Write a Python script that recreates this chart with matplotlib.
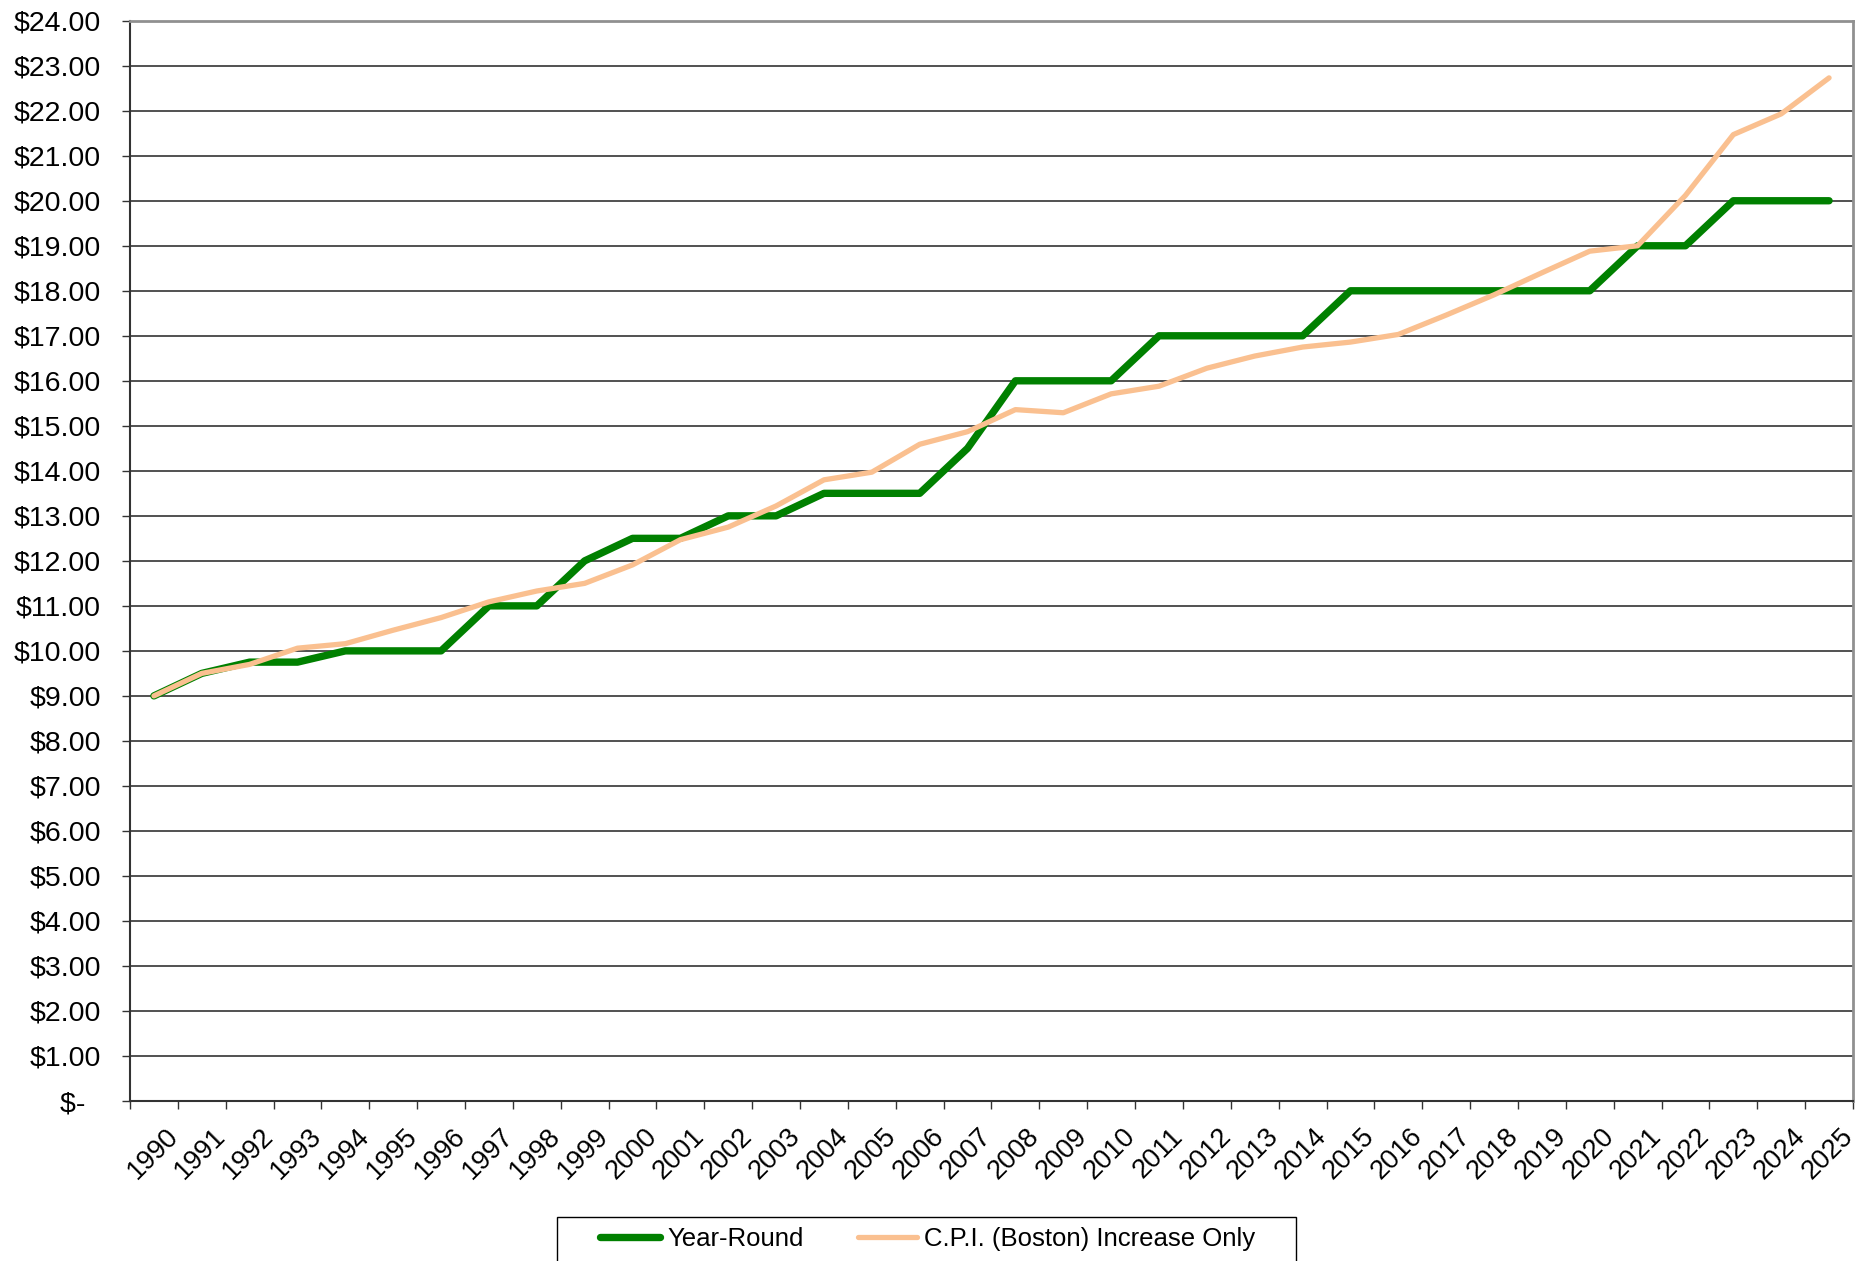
import numpy as np
import matplotlib.pyplot as plt
from matplotlib.patches import Rectangle
from matplotlib.ticker import FixedLocator, FuncFormatter

plt.rcParams['font.family'] = ['Liberation Sans', 'DejaVu Sans']

years = list(range(1990, 2026))

year_round = [9.00, 9.50, 9.75, 9.75, 10.00, 10.00, 10.00, 11.00, 11.00, 12.00,
              12.50, 12.50, 13.00, 13.00, 13.50, 13.50, 13.50, 14.50, 16.00, 16.00,
              16.00, 17.00, 17.00, 17.00, 17.00, 18.00, 18.00, 18.00, 18.00, 18.00,
              18.00, 19.00, 19.00, 20.00, 20.00, 20.00]

cpi_boston = [9.00, 9.50, 9.70, 10.06, 10.16, 10.46, 10.74, 11.09, 11.33, 11.50,
              11.91, 12.47, 12.75, 13.22, 13.80, 13.97, 14.59, 14.87, 15.36, 15.29,
              15.71, 15.88, 16.28, 16.55, 16.75, 16.86, 17.03, 17.46, 17.91, 18.40,
              18.88, 19.00, 20.12, 21.47, 21.93, 22.73]

labels = ["Year-Round", "C.P.I. (Boston) Increase Only"]
FS_Y = 20.5
FS_X = 19.5
FS_LEG = 18.5
W, H = 1868, 1261


def money(v, pos):
    if v == 0:
        return "$-  "
    return "${:.2f}".format(v)


def main():
    fig = plt.figure(figsize=(W / 100, H / 100), dpi=100)
    ax = fig.add_axes([130 / W, 1 - 1101 / H, (1853 - 130) / W, (1101 - 20.7) / H])

    x = np.arange(len(years))
    ax.plot(x, year_round, color="#008000", lw=5.3, solid_capstyle="round",
            solid_joinstyle="round", label=labels[0], zorder=3)
    ax.plot(x, cpi_boston, color="#FAC090", lw=3.8, solid_capstyle="round",
            solid_joinstyle="round", label=labels[1], zorder=4)

    ax.set_xlim(-0.5, len(years) - 0.5)
    ax.set_ylim(0, 24)

    # y axis
    ax.set_yticks(np.arange(0, 25, 1))
    ax.yaxis.set_major_formatter(FuncFormatter(money))
    ax.tick_params(axis="y", labelsize=FS_Y, length=5.5, width=1, pad=15.5, color="#333333")
    ax.grid(axis="y", color="#222222", lw=1.1)
    ax.set_axisbelow(True)

    # x axis: labels near category centers (nudged like Excel), ticks at boundaries
    ax.set_xticks(x + 0.23)
    ax.set_xticklabels([str(y) for y in years], rotation=45, ha="right",
                       va="top", rotation_mode="anchor")
    ax.tick_params(axis="x", which="major", labelsize=FS_X, length=0, pad=16)
    ax.xaxis.set_minor_locator(FixedLocator(np.arange(-0.5, len(years), 1)))
    ax.tick_params(axis="x", which="minor", length=5.5, width=1, color="#333333")

    for side in ["left", "bottom"]:
        ax.spines[side].set_color("#333333")
        ax.spines[side].set_linewidth(1.5)
    for side in ["top", "right"]:
        ax.spines[side].set_color("#909090")
        ax.spines[side].set_linewidth(2)

    # legend, its box runs off the bottom edge like the original
    fig.legend(loc="center", bbox_to_anchor=(928 / W, 1 - 1239 / H),
               ncol=2, fontsize=FS_LEG, frameon=False, handlelength=2.3,
               handletextpad=0.3, columnspacing=2.1, borderpad=0, borderaxespad=0)
    fig.add_artist(Rectangle((557 / W, -0.02), (1296 - 557) / W, (H - 1217) / H + 0.02,
                             transform=fig.transFigure, fill=False,
                             edgecolor="black", lw=1.0))

    fig.savefig("out.png", dpi=100)


if __name__ == "__main__":
    main()
